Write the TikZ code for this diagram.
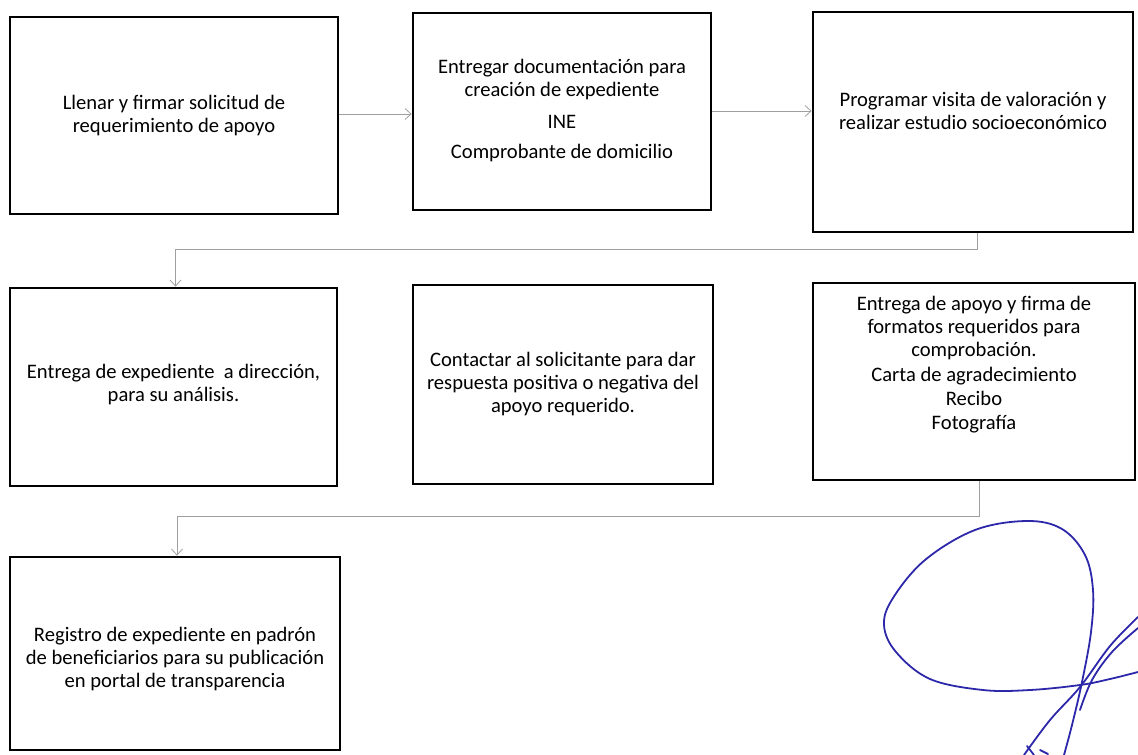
\documentclass[tikz,border=0pt]{standalone}
\usepackage{fontspec}
\setmainfont{Carlito}
\usetikzlibrary{arrows.meta}

\definecolor{tinta}{RGB}{45,40,170}
\tikzstyle{paso}=[draw, line width=2.8pt, inner sep=0pt]
\tikzstyle{texto}=[align=center, inner sep=0pt, font=\fontsize{20.6}{23}\selectfont]
\tikzstyle{flecha}=[-{Straight Barb[length=6pt, width=11pt]}, draw=gray!75, line width=0.8pt]
\tikzstyle{firma}=[draw=tinta, line width=1.8pt, line cap=round]

\begin{document}
\begin{tikzpicture}[x=1pt, y=-1pt]
    \useasboundingbox (0, 0) rectangle (1138, 755);
    \node[paso, minimum width=328pt, minimum height=197pt] (llenar) at (174, 115.5) {};
    \node[paso, minimum width=298pt, minimum height=197pt] (entregar) at (562, 111.5) {};
    \node[paso, minimum width=320pt, minimum height=220pt] (programar) at (973, 122) {};
    \node[paso, minimum width=327pt, minimum height=198pt] (expediente) at (173.5, 387) {};
    \node[paso, minimum width=300pt, minimum height=199pt] (contactar) at (563, 384.5) {};
    \node[paso, minimum width=322pt, minimum height=197pt] (apoyo) at (974, 381.5) {};
    \node[paso, minimum width=330pt, minimum height=193pt] (registro) at (175, 653.5) {};
    \node[texto] (llenartxt) at (174, 116) {Llenar y firmar solicitud de\\requerimiento de apoyo};
    \node[texto] (entregartxt) at (562, 111) {Entregar documentación para\\creación de expediente\\[9pt]INE\\[7pt]Comprobante de domicilio};
    \node[texto] (programartxt) at (973, 111) {Programar visita de valoración y\\realizar estudio socioeconómico};
    \node[texto] (expedientetxt) at (173.5, 385) {Entrega de expediente \ a dirección,\\para su análisis.};
    \node[texto] (contactartxt) at (563, 384) {Contactar al solicitante para dar\\respuesta positiva o negativa del\\apoyo requerido.};
    \node[texto] (apoyotxt) at (974, 365) {Entrega de apoyo y firma de\\formatos requeridos para\\comprobación.\\[2pt]Carta de agradecimiento\\[1pt]Recibo\\[1pt]Fotografía};
    \node[texto] (registrotxt) at (175, 659) {Registro de expediente en padrón\\de beneficiarios para su publicación\\en portal de transparencia};
    \draw[flecha] (llenar.east |- 0, 114) -- (entregar.west |- 0, 114);
    \draw[flecha] (entregar.east |- 0, 111) -- (programar.west |- 0, 111);
    \draw[flecha] (programar.south) ++(4, 0) -- ++(0, 16) -| ([xshift=2pt]expediente.north);
    \draw[flecha] (apoyo.south) ++(5, 0) -- ++(0, 35) -| ([xshift=2pt]registro.north);
    % firma
    \draw[firma] plot[smooth, tension=0.6] coordinates {(1138, 672) (1110, 679) (1080, 685) (1030, 690) (983, 690) (930, 679) (896, 652) (884, 625) (893, 598) (925, 560) (975, 530) (1027, 521) (1062, 529) (1085, 555) (1093, 590) (1091, 632) (1082, 682) (1072, 725) (1064, 755)};
    \draw[firma] plot[smooth, tension=0.6] coordinates {(1138, 617) (1110, 646) (1080, 687) (1050, 720) (1024, 755)};
    \draw[firma] plot[smooth, tension=0.6] coordinates {(1138, 628) (1112, 652) (1092, 680) (1080, 710)};
    \draw[firma] (1027, 746) -- (1034, 755);
    \draw[firma] (1040, 750) -- (1048, 754);
\end{tikzpicture}
\end{document}
